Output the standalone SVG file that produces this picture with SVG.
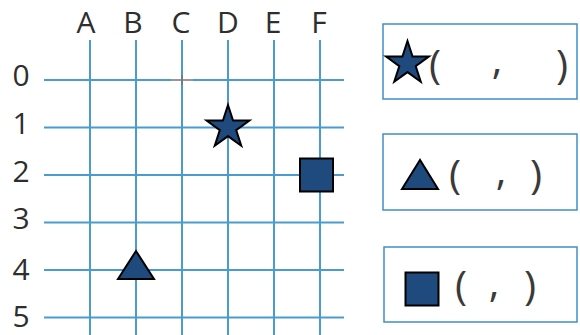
<svg xmlns="http://www.w3.org/2000/svg" width="580" height="335" viewBox="0 0 580 335">
<style>
.g{stroke:#4a9ccf;stroke-width:2;fill:none}
.lbl{font-family:"Open Sans","Liberation Sans",sans-serif;font-size:30px;fill:#2e2e2e;text-anchor:middle}
.p{font-family:"Open Sans","Liberation Sans",sans-serif;font-size:41px;fill:#3a3a3a;text-anchor:middle}
.sh{fill:#1f4a7d;stroke:#000;stroke-width:2}
.box{fill:none;stroke:#3f8fc7;stroke-width:1.5}
</style>
<rect width="580" height="335" fill="#ffffff"/>
<g id="grid">
<g class="g">
<line x1="90" y1="40" x2="90" y2="335"/>
<line x1="136" y1="40" x2="136" y2="335"/>
<line x1="182" y1="40" x2="182" y2="335"/>
<line x1="228" y1="40" x2="228" y2="335"/>
<line x1="274" y1="40" x2="274" y2="335"/>
<line x1="320" y1="40" x2="320" y2="335"/>
<line x1="44" y1="80" x2="171" y2="80"/>
<line x1="193" y1="80" x2="344" y2="80"/>
<line x1="44" y1="127.5" x2="344" y2="127.5"/>
<line x1="44" y1="175" x2="344" y2="175"/>
<line x1="44" y1="222.5" x2="344" y2="222.5"/>
<line x1="44" y1="270" x2="344" y2="270"/>
<line x1="44" y1="317.5" x2="344" y2="317.5"/>
</g>
<path d="M171 80H193M182 75V85" stroke="#777" stroke-width="1.5" fill="none"/>
</g>
<g id="col-labels">
<text class="lbl" x="86" y="33">A</text>
<text class="lbl" x="133" y="33">B</text>
<text class="lbl" x="181" y="33">C</text>
<text class="lbl" x="228" y="33">D</text>
<text class="lbl" x="273" y="33">E</text>
<text class="lbl" x="319" y="33">F</text>
</g>
<g id="row-labels">
<text class="lbl" x="21" y="86">0</text>
<text class="lbl" x="21" y="134">1</text>
<text class="lbl" x="21" y="182">2</text>
<text class="lbl" x="21" y="229">3</text>
<text class="lbl" x="21" y="280">4</text>
<text class="lbl" x="21" y="327">5</text>
</g>
<defs>
<polygon id="star" points="0,-22.5 5.05,-6.95 21.4,-6.95 8.17,2.65 13.22,18.2 0,8.6 -13.22,18.2 -8.17,2.65 -21.4,-6.95 -5.05,-6.95"/>
</defs>
<g id="star-point"><use href="#star" x="228" y="127.5" class="sh"/></g>
<g id="square-point"><rect class="sh" x="300" y="158.5" width="33" height="33" stroke-width="3"/></g>
<g id="triangle-point"><polygon class="sh" points="136,251 118,279 154,279"/></g>
<g id="box-star">
<rect class="box" x="383" y="24" width="194" height="75"/>
<use href="#star" x="407.5" y="63.5" class="sh"/>
<text class="p" x="435" y="79">(</text>
<text class="p" x="497" y="74">,</text>
<text class="p" x="562" y="79">)</text>
</g>
<g id="box-triangle">
<rect class="box" x="383" y="134" width="194" height="76"/>
<polygon class="sh" points="420,160 402,189 438,189"/>
<text class="p" x="455" y="189">(</text>
<text class="p" x="501" y="185">,</text>
<text class="p" x="536" y="189">)</text>
</g>
<g id="box-square">
<rect class="box" x="384" y="247" width="193" height="75"/>
<rect class="sh" x="405.5" y="272.5" width="33" height="33" stroke-width="3"/>
<text class="p" x="461" y="300">(</text>
<text class="p" x="494" y="297">,</text>
<text class="p" x="530" y="300">)</text>
</g>
</svg>
